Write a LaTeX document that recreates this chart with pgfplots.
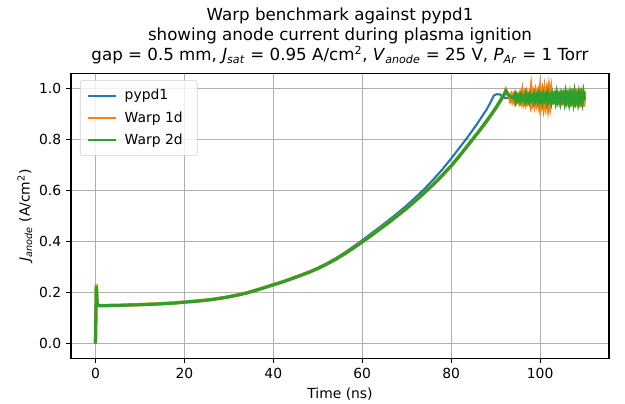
\documentclass[border=0pt]{standalone}
\usepackage{pgfplots}
\pgfplotsset{compat=1.18}
\usepackage{fontspec}
\setmainfont{DejaVu Sans}
\definecolor{mblue}{HTML}{1F77B4}
\definecolor{morange}{HTML}{FF7F0E}
\definecolor{mgreen}{HTML}{2CA02C}
\definecolor{mgrid}{HTML}{B0B0B0}
\begin{document}
\begin{tikzpicture}
\path[use as bounding box] (-51.1pt,-32.4pt) rectangle (398.9pt,257.8pt);
\begin{axis}[
  at={(0,0)}, anchor=south west,
  scale only axis,
  width=387.4pt, height=205.2pt,
  xmin=-5.5, xmax=115.5,
  ymin=-0.057, ymax=1.06,
  xtick={0,20,40,60,80,100},
  ytick={0,0.2,0.4,0.6,0.8,1.0},
  yticklabel style={/pgf/number format/.cd, fixed, fixed zerofill, precision=1},
  /pgf/number format/assume math mode=true,
  tick label style={font=\fontsize{10}{12}\selectfont},
  label style={font=\fontsize{10}{12}\selectfont},
  xtick pos=bottom, ytick pos=left,
  tick align=outside,
  major tick length=3.5pt,
  every tick/.style={black, line width=0.8pt},
  axis line style={line width=0.8pt},
  grid=major,
  major grid style={mgrid, line width=0.8pt},
  xlabel={Time (ns)},
  ylabel={\textit{J}\textsubscript{\textit{anode}} (A/cm\textsuperscript{2})},
  xlabel style={yshift=0pt},
  ylabel style={yshift=-2pt},
  title={Warp benchmark against pypd1\\showing anode current during plasma ignition\\gap = 0.5 mm, \textit{J}\textsubscript{\textit{sat}} = 0.95 A/cm\textsuperscript{2}, \textit{V}\textsubscript{\textit{anode}} = 25 V, \textit{P}\textsubscript{\textit{Ar}} = 1 Torr},
  title style={font=\fontsize{12}{14.4}\selectfont, align=center, yshift=-3pt},
  legend style={at={(0,1)}, anchor=north west, xshift=6.5pt, yshift=-5pt,
    draw=mgrid!60, rounded corners=2pt, fill=white, fill opacity=0.8, text opacity=1,
    font=\fontsize{10}{12}\selectfont, row sep=3pt, inner xsep=5pt, inner ysep=4.5pt,
    nodes={inner xsep=5.5pt}},
  legend cell align=left,
  legend image code/.code={\draw[#1, line width=1.5pt] (0pt,0pt) -- (20pt,0pt);},
]
\addplot[mblue, line width=1.5pt] coordinates {
(0,0) (0.2,0.20) (0.4,0.15) (1,0.148) (2,0.1485) (4,0.149) (6,0.150) (8,0.151)
(10,0.152) (12,0.1535) (14,0.155) (16,0.157) (18,0.159) (20,0.162) (22,0.165)
(24,0.168) (26,0.172) (28,0.177) (30,0.183) (32,0.190) (34,0.198) (36,0.208)
(38,0.219) (40,0.230) (42,0.241) (44,0.254) (46,0.267) (48,0.281) (50,0.296)
(52,0.314) (54,0.334) (56,0.356) (58,0.380) (60,0.405) (62,0.431) (64,0.457)
(66,0.484) (68,0.512) (70,0.541) (72,0.573) (74,0.606) (76,0.643) (78,0.682)
(80,0.725) (82,0.770) (84,0.816) (86,0.865) (88,0.918) (89,0.950) (89.6,0.972)
(90.2,0.977) (91,0.976) (91.5,0.968) (92,0.962) (93,0.963) (94,0.961) (95,0.962)
};
\addlegendentry{pypd1}
\addplot[morange, line width=2.5pt] coordinates {
(0,0) (0.2,0.232) (0.4,0.152) (1,0.149) (2,0.1485) (4,0.1495) (6,0.150) (8,0.1515)
(10,0.152) (12,0.154) (14,0.155) (16,0.1575) (18,0.159) (20,0.1625) (22,0.165)
(24,0.1685) (26,0.172) (28,0.1775) (30,0.183) (32,0.1905) (34,0.198) (36,0.2085)
(38,0.219) (40,0.2305) (42,0.241) (44,0.2535) (46,0.266) (48,0.2795) (50,0.294)
(52,0.3115) (54,0.330) (56,0.3515) (58,0.374) (60,0.3985) (62,0.423) (64,0.4495)
(66,0.475) (68,0.5025) (70,0.530) (72,0.5605) (74,0.591) (76,0.6245) (78,0.659)
(80,0.6965) (82,0.738) (84,0.7825) (86,0.826) (88,0.8725) (90,0.922) (91,0.950)
(92,0.978) (92.3,0.992) (92.6,0.980)
(93,0.972) (93.25,0.957) (93.5,0.970) (93.75,0.954) (94,0.968) (94.25,0.953)
(94.5,0.971) (94.75,0.955) (95,0.967) (95.25,0.952) (95.5,0.972) (95.75,0.956)
(96,0.982) (96.25,0.952) (96.5,0.970) (96.75,0.950) (97,0.974) (97.25,0.953)
(97.5,0.969) (97.75,0.948) (98,0.990) (98.25,0.951) (98.5,0.972) (98.75,0.946)
(99,0.976) (99.25,0.950) (99.5,0.974) (99.75,0.944) (100,0.986) (100.25,0.947)
(100.5,0.976) (100.75,0.942) (101,0.982) (101.25,0.946) (101.5,0.978) (101.75,0.940)
(102,0.984) (102.25,0.944) (102.5,0.980) (102.75,0.937) (103,0.988) (103.25,0.942)
(103.5,0.983) (103.75,0.935) (104,0.990) (104.25,0.940) (104.5,0.985) (104.75,0.933)
(105,0.993) (105.25,0.938) (105.5,0.987) (105.75,0.930) (106,0.995) (106.25,0.936)
(106.5,0.989) (106.75,0.928) (107,0.997) (107.25,0.934) (107.5,0.991) (107.75,0.927)
(108,1.000) (108.25,0.932) (108.5,0.993) (108.75,0.926) (109,1.001) (109.25,0.930)
(109.5,0.995) (109.75,0.928) (110,0.988)
};
\addlegendentry{Warp 1d}
\addplot[mgreen, line width=2.2pt] coordinates {
(0,0) (0.2,0.225) (0.4,0.150) (1,0.148) (2,0.1485) (4,0.149) (6,0.150) (8,0.151)
(10,0.152) (12,0.1535) (14,0.155) (16,0.157) (18,0.159) (20,0.162) (22,0.165)
(24,0.168) (26,0.172) (28,0.177) (30,0.183) (32,0.190) (34,0.198) (36,0.208)
(38,0.219) (40,0.230) (42,0.241) (44,0.253) (46,0.266) (48,0.279) (50,0.294)
(52,0.311) (54,0.330) (56,0.351) (58,0.374) (60,0.398) (62,0.423) (64,0.449)
(66,0.475) (68,0.502) (70,0.530) (72,0.560) (74,0.591) (76,0.624) (78,0.659)
(80,0.696) (82,0.738) (84,0.782) (86,0.826) (88,0.872) (90,0.922) (91,0.950)
(92,0.978) (92.3,0.990) (93,0.972)
(93.5,0.966) (94,0.962) (94.25,0.973) (94.5,0.952) (94.75,0.969) (95,0.956)
(95.25,0.968) (95.5,0.953) (95.75,0.972) (96,0.958) (96.25,0.966) (96.5,0.951)
(96.75,0.974) (97,0.955) (97.25,0.969) (97.5,0.952) (97.75,0.972) (98,0.957)
(98.25,0.967) (98.5,0.950) (98.75,0.973) (99,0.956) (99.25,0.970) (99.5,0.952)
(99.75,0.975) (100,0.953) (100.25,0.968) (100.5,0.949) (100.75,0.974) (101,0.958)
(101.25,0.971) (101.5,0.950) (101.75,0.977) (102,0.954) (102.25,0.966) (102.5,0.948)
(102.75,0.975) (103,0.957) (103.25,0.972) (103.5,0.949) (103.75,0.978) (104,0.953)
(104.25,0.969) (104.5,0.947) (104.75,0.975) (105,0.958) (105.25,0.973) (105.5,0.948)
(105.75,0.979) (106,0.952) (106.25,0.970) (106.5,0.946) (106.75,0.977) (107,0.956)
(107.25,0.974) (107.5,0.947) (107.75,0.980) (108,0.951) (108.25,0.968) (108.5,0.946)
(108.75,0.978) (109,0.955) (109.25,0.975) (109.5,0.949) (109.75,0.980) (110,0.953)
};
\addlegendentry{Warp 2d}
\end{axis}
\end{tikzpicture}
\end{document}
